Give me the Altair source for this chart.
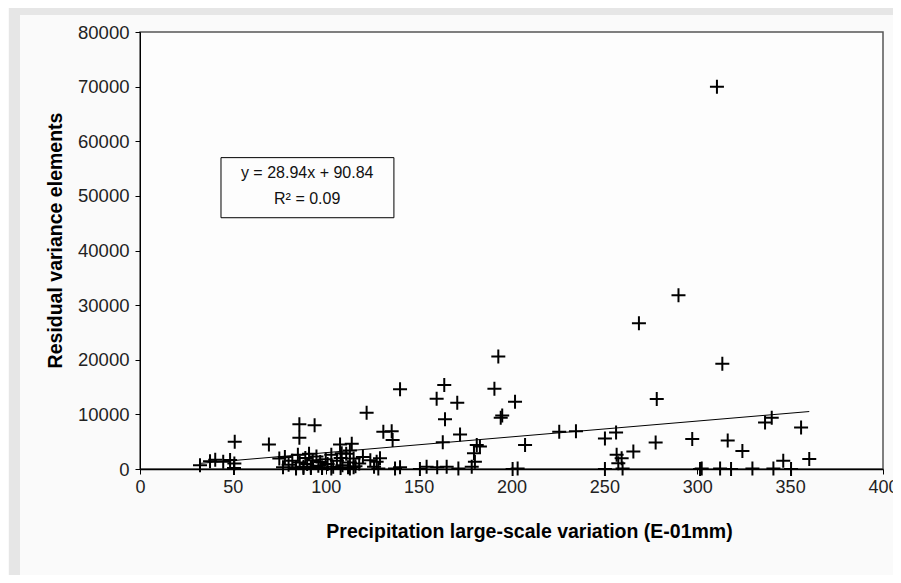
import altair as alt
import pandas as pd

# Scatter data (x: precipitation large-scale variation, y: residual variance elements)
px = [310.6, 289.9, 268.6, 313.5, 192.9, 190.8, 163.8, 140.0, 159.7, 170.8,
      201.9, 278.2, 122.0, 194.2, 195.0, 164.2, 340.1, 336.5, 85.8, 94.0,
      355.9, 131.0, 135.5, 136.0, 172.3, 225.7, 234.7, 256.3, 250.3, 297.3,
      316.4, 277.6, 163.0, 85.8, 51.0, 69.4, 107.7, 114.0, 113.0, 181.3,
      183.0, 207.3, 179.8, 265.6, 324.3, 256.6, 259.3, 346.3, 360.3, 257.5,
      180.3, 129.2, 127.4, 32.3, 37.7, 40.5, 44.8, 48.5, 50.8,
      50.6, 77.0, 84.0, 88.0, 92.0, 98.0, 103.0, 108.0, 113.0, 115.0,
      126.0, 128.3, 137.3, 140.0, 150.7, 154.3, 160.0, 165.1, 171.4, 178.6,
      200.6, 203.3, 250.3, 259.8, 301.5, 302.4, 312.3, 318.2, 329.7, 341.0, 350.5,
      78.0, 80.0, 82.0, 84.0, 85.0, 86.0, 88.0, 89.0, 90.0, 91.0,
      92.0, 93.0, 95.0, 96.0, 97.0, 98.0, 100.0, 101.0, 103.0, 104.0,
      106.0, 108.0, 109.0, 111.0, 112.0, 113.0, 115.0, 116.0, 118.0, 120.0,
      124.0, 108.6, 75.0]
py = [70000, 31800, 26700, 19250, 20600, 14700, 15400, 14600, 12850, 12150,
      12300, 12800, 10300, 9400, 9800, 9100, 9400, 8500, 8200, 8000,
      7600, 6800, 6900, 5300, 6300, 6840, 6900, 6700, 5600, 5500,
      5200, 4850, 4900, 5700, 5000, 4500, 4500, 4600, 3400, 4400,
      4100, 4400, 2900, 3200, 3300, 2600, 1950, 1500, 1850, 1050,
      1350, 1950, 1350, 700, 1400, 1700, 1350, 1650, 1000,
      200, 300, 100, 400, 200, 300, 100, 200, 100, 300,
      400, 100, 100, 300, 0, 400, 300, 400, 100, 400,
      0, 100, 0, 100, 0, 100, 100, 0, 100, 100, 0,
      2200, 800, 1500, 300, 2600, 1200, 200, 2000, 900, 2800,
      400, 1600, 2300, 600, 1300, 200, 1800, 900, 2600, 400,
      1500, 2000, 700, 2800, 300, 1200, 1900, 500, 1000, 2200,
      1600, 2900, 1900]

# Linear trendline endpoints
trend_x = [32.3, 360.3]
trend_y = [1030, 10520]

# Equation box (data coordinates) and its text
box_x = [43.6]
box_x2 = [136.7]
box_y = [57000]
box_y2 = [46000]
eq_x = [90.0, 90.0]
eq_y = [54200, 49400]
eq_text = ["y = 28.94x + 90.84", "R² = 0.09"]

FONT = "Liberation Sans"
W, H = 743, 437

pts = pd.DataFrame({"x": px, "y": py})
trend = pd.DataFrame({"x": trend_x, "y": trend_y})
box = pd.DataFrame({"x": box_x, "x2": box_x2, "y": box_y, "y2": box_y2})
eq = pd.DataFrame({"x": eq_x, "y": eq_y, "t": eq_text})

xscale = alt.Scale(domain=[0, 400], nice=False, zero=False)
yscale = alt.Scale(domain=[0, 80000], nice=False, zero=False)

xaxis = alt.Axis(values=list(range(0, 401, 50)), format="d", grid=False,
                 labelFont=FONT, labelFontSize=18, labelColor="#222",
                 labelPadding=4, tickSize=5, tickColor="#000", domainColor="#000",
                 domainWidth=1.5, labelFlush=False,
                 titleFont=FONT, titleFontSize=19.5, titleFontWeight="bold",
                 titleColor="#000", titleX=389, titleY=62,
                 titleAnchor="start", titleAlign="center", titleBaseline="middle")
yaxis = alt.Axis(values=list(range(0, 80001, 10000)), format="d", grid=False,
                 labelFont=FONT, labelFontSize=18.5, labelColor="#222",
                 labelPadding=6, tickSize=5, tickColor="#000", domainColor="#000",
                 titleFont=FONT, titleFontSize=19.5, titleFontWeight="bold",
                 titleColor="#000", titleX=-85, titleY=208, titleAngle=270,
                 titleAnchor="start", titleAlign="center", titleBaseline="middle")

X = alt.X("x:Q", scale=xscale, axis=xaxis, title="Precipitation large-scale variation (E-01mm)")
Y = alt.Y("y:Q", scale=yscale, axis=yaxis, title="Residual variance elements")

one = pd.DataFrame({"a": [0]})
frame_left = alt.Chart(one).mark_rect(color="#e6e6e6", clip=False).encode(
    x=alt.value(-131), x2=alt.value(-120), y=alt.value(-24), y2=alt.value(H + 106))
frame_top = alt.Chart(one).mark_rect(color="#e6e6e6", clip=False).encode(
    x=alt.value(-131), x2=alt.value(W + 10), y=alt.value(-24), y2=alt.value(-17))

box_layer = alt.Chart(box).mark_rect(fill="#fdfdfd", stroke="#000", strokeWidth=1).encode(
    x=X, x2="x2:Q", y=Y, y2="y2:Q")
eq_layer = alt.Chart(eq).mark_text(font=FONT, fontSize=16, color="#111",
                                   align="center", baseline="middle").encode(
    x=X, y=Y, text="t:N")

trend_layer = alt.Chart(trend).mark_line(color="#000", strokeWidth=1).encode(x=X, y=Y)
pt_layer = alt.Chart(pts).mark_point(
    shape="M-1,0L1,0M0,-1L0,1", size=196, filled=False, color="#000",
    strokeWidth=2, opacity=1).encode(x=X, y=Y)

chart = alt.layer(frame_left, frame_top, box_layer, eq_layer, trend_layer, pt_layer).properties(
    width=W, height=H, autosize="none",
    padding={"left": 132, "top": 24, "right": 10, "bottom": 106},
    background="#fafafa",
).configure_view(stroke="#555", strokeWidth=1.5, fill="#fdfdfd")

chart.save("out.html", embed_options={"renderer": "svg", "actions": False})
